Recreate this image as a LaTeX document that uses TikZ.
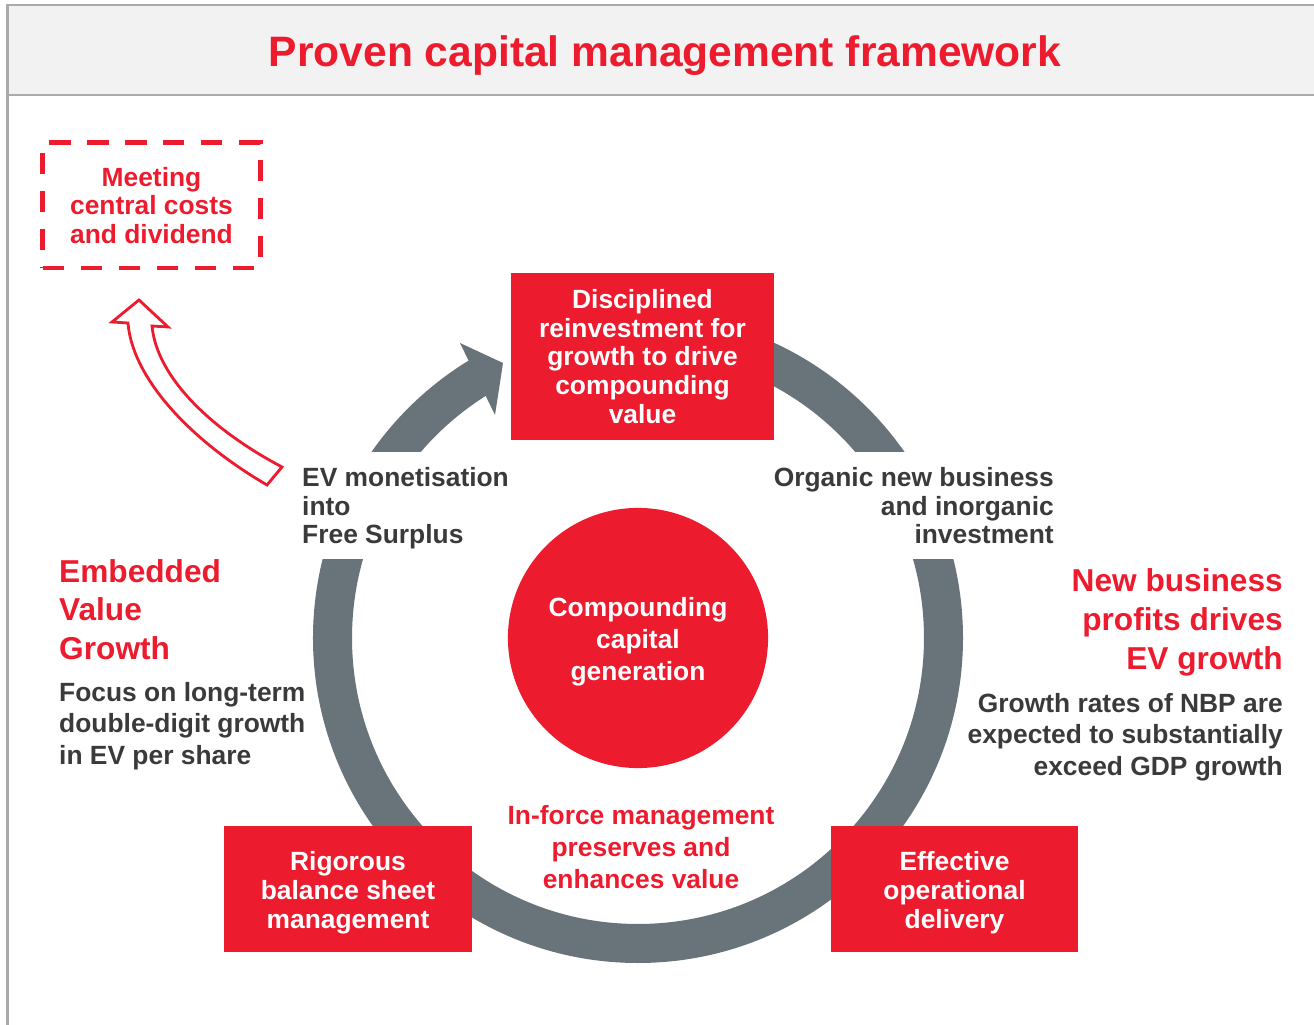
\documentclass[tikz,border=0pt]{standalone}
\usepackage{fontspec}
\setmainfont{Liberation Sans}
\begin{document}
\begin{tikzpicture}[x=0.01cm, y=0.01cm, line width=0.7pt,
    ring/.style={draw=ringgray, line width=0.39cm},
    redbox/.style={
                fill=brandred,
                text=white,
                align=center,
                inner sep=0pt,
                font=\fontsize{7.5}{8.2}\selectfont\bfseries
              },
    note/.style={inner sep=0pt, text=darktext, font=\fontsize{7.5}{9}\selectfont\bfseries},
    headline/.style={inner sep=0pt, text=brandred, font=\fontsize{9}{11}\selectfont\bfseries}]
    % Define colors
    \definecolor{brandred}{RGB}{237, 27, 46}
    \definecolor{ringgray}{RGB}{104, 115, 122}
    \definecolor{darktext}{RGB}{58, 58, 58}
    \definecolor{bandfill}{RGB}{242, 242, 242}
    \definecolor{bandline}{RGB}{170, 170, 170}

    \useasboundingbox (0,0) rectangle (1314,-1025);

    % header band
    \fill[bandfill] (7,-5) rectangle (1320,-95);
    \draw[bandline, line width=0.6pt] (1320,-5) -- (7.5,-5) -- (7.5,-1030);
    \draw[bandline, line width=0.6pt] (7.5,-95) -- (1320,-95);
    \node[inner sep=0pt, anchor=base, text=brandred, font=\fontsize{12.1}{14}\selectfont\bfseries] (title) at (665,-67) {Proven capital management framework};

    % ring
    \begin{scope}[shift={(638,-638)}]
        \begin{scope}
            \clip (-400,78) rectangle (400,-400);
            \draw[ring] (0,0) circle (305.5);
        \end{scope}
        \begin{scope}
            \clip (0,186) rectangle (400,400);
            \draw[ring] (0,0) circle (305.5);
        \end{scope}
        \begin{scope}
            \clip (-400,186) rectangle (0,400);
            \draw[ring] (121:305.5) arc (121:160:305.5);
        \end{scope}
        \fill[ringgray] (-178,295) -- (-135,275) -- (-143,223) -- cycle;
    \end{scope}

    % hollow arrow
    \draw[brandred, line width=0.8pt, fill=white, line join=miter] (267,-485) .. controls (185,-437) and (132,-375) .. (128,-323)
        -- (112,-322) -- (139,-300) -- (168,-327) -- (152,-326)
        .. controls (157,-378) and (212,-430) .. (282,-467) -- cycle;

    % boxes
    \node[draw=brandred, dashed, dash pattern=on 6pt off 4.8pt, line width=1.4pt, align=center, inner sep=0pt,
        text=brandred, font=\fontsize{7.5}{8.2}\selectfont\bfseries,
        minimum width=2.17cm, minimum height=1.25cm] (central) at (151.5,-205.5) {Meeting\\central costs\\and dividend};
    \node[redbox, minimum width=2.63cm, minimum height=1.67cm] (reinvest) at (642.5,-356.5) {Disciplined\\reinvestment for\\growth to drive\\compounding\\value};
    \node[redbox, minimum width=2.48cm, minimum height=1.26cm] (balance) at (348,-889) {\rule{0pt}{7.6pt}Rigorous\\balance sheet\\management};
    \node[redbox, minimum width=2.47cm, minimum height=1.26cm] (delivery) at (954.5,-889) {\rule{0pt}{7.6pt}Effective\\operational\\delivery};
    \node[circle, fill=brandred, minimum size=2.6cm, inner sep=0pt, text=white, align=center,
        font=\fontsize{7.5}{9.1}\selectfont\bfseries] (core) at (638,-638) {\rule{0pt}{7.6pt}Compounding\\capital\\generation};

    % texts round the ring
    \node[note, anchor=west, align=left, font=\fontsize{7.5}{8.1}\selectfont\bfseries] (monetise) at (301,-508.5) {EV monetisation\\into\\Free Surplus};
    \node[note, anchor=east, align=right, font=\fontsize{7.5}{8.1}\selectfont\bfseries] (organic) at (1055,-506) {Organic new business\\and inorganic\\investment};
    \node[headline, anchor=west, align=left] (evgrowth) at (58,-609.5) {Embedded\\Value\\Growth};
    \node[note, anchor=west, align=left] (focus) at (58,-726) {Focus on long-term\\double-digit growth\\in EV per share};
    \node[headline, anchor=east, align=right] (nbprofits) at (1284,-622.5) {New business\\profits drives\\EV growth};
    \node[note, anchor=east, align=right] (nbprates) at (1284,-737) {Growth rates of NBP are\\expected to substantially\\exceed GDP growth};
    \node[inner sep=0pt, text=brandred, align=center, font=\fontsize{7.5}{9.1}\selectfont\bfseries] (inforce) at (641,-847) {In-force management\\preserves and\\enhances value};
\end{tikzpicture}
\end{document}
